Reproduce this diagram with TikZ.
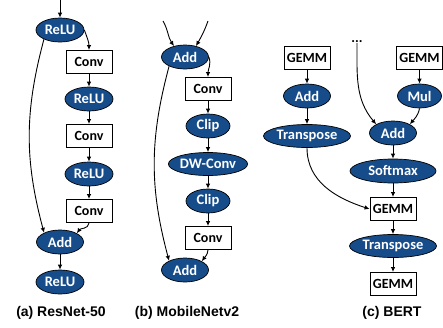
\documentclass[tikz,border=0pt]{standalone}
\usepackage{fontspec}
\setmainfont{Carlito}
\newfontfamily\capfont{Liberation Sans}
\usetikzlibrary{shapes.geometric,arrows.meta}
\definecolor{opblue}{HTML}{174C8A}
\tikzset{
  opnode/.style={ellipse,draw=black,line width=0.7pt,fill=opblue,text=white,inner sep=0pt,
    font=\bfseries\fontsize{14.5}{15}\selectfont},
  boxnode/.style={rectangle,draw=black,line width=0.9pt,fill=white,text=black,inner sep=0pt,
    minimum width=46pt,minimum height=23pt,font=\bfseries\fontsize{14}{15}\selectfont},
  arr/.style={-{Latex[length=5pt,width=4.5pt]},line width=0.9pt},
  captxt/.style={font=\capfont\bfseries\fontsize{14}{16}\selectfont,inner sep=0pt}
}
\begin{document}
\begin{tikzpicture}[x=1pt,y=1pt]
\useasboundingbox (0,0) rectangle (443,-327);
% (a) ResNet-50
\coordinate (a0) at (60,0);
\node[opnode,minimum width=48pt,minimum height=24pt] (aR1) at (60,-30) {ReLU};
\node[boxnode] (aC1) at (89,-62) {Conv};
\node[opnode,minimum width=48pt,minimum height=24pt] (aR2) at (89,-99) {ReLU};
\node[boxnode] (aC2) at (89,-136) {Conv};
\node[opnode,minimum width=48pt,minimum height=24pt] (aR3) at (89,-174) {ReLU};
\node[boxnode] (aC3) at (89,-211) {Conv};
\node[opnode,minimum width=47pt,minimum height=24pt] (aA) at (60,-242) {Add};
\node[opnode,minimum width=48pt,minimum height=24pt] (aR4) at (60,-282) {ReLU};
\node[captxt] (capa) at (61,-313) {(a) ResNet-50};
\draw[arr] (a0) -- (aR1);
\draw[arr] (aR1.east) to[out=-70,in=90] (aC1.north);
\draw[arr] (aC1) -- (aR2);
\draw[arr] (aR2) -- (aC2);
\draw[arr] (aC2) -- (aR3);
\draw[arr] (aR3) -- (aC3);
\draw[arr] (aC3.south) to[out=-95,in=55] (aA.north east);
\draw[arr] (aR1.210) to[out=-105,in=105] (aA.150);
\draw[arr] (aA) -- (aR4);
% (b) MobileNetv2
\coordinate (b0) at (163,-21);
\coordinate (b1) at (208,-21);
\node[opnode,minimum width=47pt,minimum height=24pt] (bA1) at (185,-57) {Add};
\node[boxnode] (bC1) at (208,-89) {Conv};
\node[opnode,minimum width=44pt,minimum height=24pt] (bK1) at (208,-126) {Clip};
\node[opnode,minimum width=67pt,minimum height=23pt] (bD) at (208,-164) {DW-Conv};
\node[opnode,minimum width=44pt,minimum height=24pt] (bK2) at (208,-201) {Clip};
\node[boxnode] (bC2) at (208,-238) {Conv};
\node[opnode,minimum width=47pt,minimum height=24pt] (bA2) at (185,-270) {Add};
\node[captxt] (capb) at (187,-313) {(b) MobileNetv2};
\draw[arr] (b0) to[out=-60,in=125] (bA1.135);
\draw[arr] (b1) to[out=-110,in=60] (bA1.45);
\draw[arr] (bA1.east) to[out=-70,in=90] (bC1.north);
\draw[arr] (bC1) -- (bK1);
\draw[arr] (bK1) -- (bD);
\draw[arr] (bD) -- (bK2);
\draw[arr] (bK2) -- (bC2);
\draw[arr] (bC2.south) to[out=-95,in=55] (bA2.north east);
\draw[arr] (bA1.210) to[out=-105,in=105] (bA2.150);
% (c) BERT
\node[boxnode] (cG1) at (307,-58) {GEMM};
\node[opnode,minimum width=47pt,minimum height=24pt] (cA1) at (307,-96) {Add};
\node[opnode,minimum width=87pt,minimum height=23pt] (cT1) at (307,-136) {Transpose};
\node[font=\bfseries\fontsize{14}{15}\selectfont,inner sep=0pt] (cdots) at (357,-42) {...};
\node[boxnode] (cG2) at (419.5,-58) {GEMM};
\node[opnode,minimum width=44pt,minimum height=24pt] (cM) at (419.5,-96) {Mul};
\node[opnode,minimum width=47pt,minimum height=24pt] (cA2) at (393,-133) {Add};
\node[opnode,minimum width=86pt,minimum height=24pt] (cS) at (393,-171) {Softmax};
\node[boxnode] (cG3) at (393,-209) {GEMM};
\node[opnode,minimum width=87pt,minimum height=23pt] (cT2) at (393,-246) {Transpose};
\node[boxnode] (cG4) at (393,-284) {GEMM};
\node[captxt] (capc) at (392,-313) {(c) BERT};
\draw[arr] (cG1) -- (cA1);
\draw[arr] (cA1) -- (cT1);
\draw[arr] (cT1.south) to[out=-90,in=162] (cG3.west);
\draw[arr] (cdots.south) to[out=-90,in=130] (cA2.north west);
\draw[arr] (cG2) -- (cM);
\draw[arr] (cM.south) to[out=-100,in=50] (cA2.north east);
\draw[arr] (cA2) -- (cS);
\draw[arr] (cS) -- (cG3);
\draw[arr] (cG3) -- (cT2);
\draw[arr] (cT2) -- (cG4);
\end{tikzpicture}
\end{document}
